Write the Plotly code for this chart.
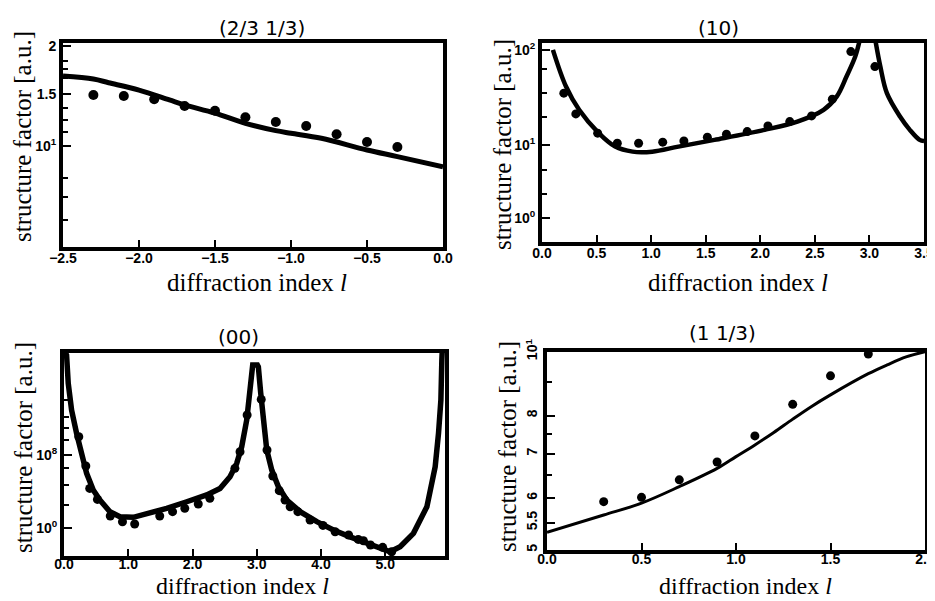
import plotly.graph_objects as go
import math

# ---------------- data ----------------
# panel (2/3 1/3)
p1_pts_l = [-2.3, -2.1, -1.9, -1.7, -1.5, -1.3, -1.1, -0.9, -0.7, -0.5, -0.3]
p1_pts_F = [14.24, 14.14, 13.82, 13.20, 12.77, 12.20, 11.81, 11.49, 10.84, 10.28, 9.93]
p1_fit_l = [-2.5, -2.3, -2.2, -2.0, -1.8, -1.7, -1.5, -1.3, -1.1, -1.0, -0.8, -0.5, -0.3, 0.0]
p1_fit_F = [16.25, 15.91, 15.51, 14.74, 13.76, 13.29, 12.55, 11.70, 11.12, 10.92, 10.55, 9.72, 9.29, 8.66]
p1_yticks = [20, 14.3, 10]
p1_ytext = ["2", "1.5", "10<sup>1</sup>"]
p1_yminor = [18, 17, 16, 13, 12, 11, 8, 7, 6]

# panel (10)
p2_pts_l = [0.20, 0.31, 0.51, 0.69, 0.885, 1.106, 1.30, 1.515, 1.69, 1.88, 2.07, 2.27, 2.47, 2.66, 2.83, 3.05]
p2_pts_F = [35.0, 21.2, 13.3, 10.4, 10.4, 10.7, 11.0, 12.05, 12.96, 13.8, 15.85, 17.6, 20.2, 30.3, 95.9, 66.7]
p2_fit_l = [0.10, 0.22, 0.34, 0.52, 0.67, 0.83, 1.01, 1.25, 1.58, 2.04, 2.34, 2.58, 2.70, 2.79, 2.87, 2.91,
            None, 3.055, 3.10, 3.16, 3.28, 3.37, 3.46, 3.50]
p2_fit_F = [100, 41.1, 23.4, 13.3, 9.6, 8.5, 8.5, 9.6, 11.3, 14.4, 17.6, 23.4, 32.2, 52.4, 85, 125,
            None, 125, 66.7, 35, 19.9, 14.4, 11.3, 11.0]
p2_yticks = [100, 10, 1.7]
p2_ytext = ["10<sup>2</sup>", "10<sup>1</sup>", "10<sup>0</sup>"]
p2_yminor = [62.7, 35, 19.6, 5.45, 3.05]

# panel (00)
p3_pts_l = [0.23, 0.34, 0.40, 0.52, 0.72, 0.91, 1.10, 1.49, 1.69, 1.88, 2.09, 2.27, 2.66, 2.74, 2.85,
            3.07, 3.16, 3.25, 3.35, 3.44, 3.52, 3.64, 3.83, 4.03, 4.22, 4.43, 4.58, 4.66, 4.77, 4.96, 5.10]
p3_pts_F = [1.0e10, 6.2e6, 2.1e4, 1.3e3, 19.5, 4.6, 2.6, 19.5, 58, 135, 410, 1.7e3, 3.4e6, 2.3e8, 2.5e12,
            1.3e14, 3.5e8, 4.9e5, 1.2e4, 1.1e3, 204, 58, 7.1, 1.8, 0.36, 0.16, 0.052, 0.037, 0.0126, 0.0069, 0.0023]
p3_fit_l = [0.0, 0.04, 0.066, 0.118, 0.196, 0.274, 0.352, 0.455, 0.559, 0.715, 0.871, 1.078, 1.338, 1.598,
            1.910, 2.221, 2.428, 2.584, 2.688, 2.766, 2.844, 2.906, 2.937, 3.01, 3.025, 3.062, 3.103, 3.156,
            3.234, 3.337, 3.467, 3.675, 3.935, 4.193, 4.453, 4.713, 4.921, 5.076, 5.232, 5.439, 5.648,
            5.777, 5.829, 5.866, 5.881, 5.89]
p3_fit_F = [3e19, 1e19, 7.6e15, 8.9e12, 2.4e10, 1.5e8, 9.5e5, 1.4e4, 1.1e3, 58, 16, 14, 38, 135,
            720, 4.0e3, 2.1e4, 4.1e5, 1.2e7, 8.1e8, 7.1e11, 1.4e15, 8e17, 8e17, 5.1e17, 6.2e14, 3.1e11, 3.5e8,
            2.2e6, 3.2e4, 1.1e3, 58, 4.6, 0.56, 0.10, 0.019, 0.0054, 0.0023, 0.0081, 0.24, 204,
            5.1e6, 2.4e10, 1.1e14, 2.8e18, 1e20]
p3_yticks = [1e8, 1]
p3_ytext = ["10<sup>8</sup>", "10<sup>0</sup>"]
p3_yminor = [1.1e14, 1.6e12, 8.7e10, 4.5e9, 3.4e6, 5.0e4, 3.2e2]

# panel (1 1/3)
p4_pts_l = [0.3, 0.5, 0.7, 0.9, 1.1, 1.3, 1.5, 1.7]
p4_pts_F = [5.92, 6.01, 6.39, 6.80, 7.45, 8.32, 9.19, 9.92]
p4_fit_l = [0.0, 0.3, 0.5, 0.7, 0.9, 1.0, 1.1, 1.2, 1.3, 1.4, 1.5, 1.7, 1.8, 1.9, 2.0]
p4_fit_F = [5.32, 5.65, 5.89, 6.24, 6.65, 6.93, 7.22, 7.54, 7.90, 8.26, 8.60, 9.26, 9.55, 9.82, 10.0]
p4_yticks = [5, 5.5, 6, 7, 8, 10]
p4_ytext = ["5", "5.5", "6", "7", "8", "10<sup>1</sup>"]
p4_yminor = [6.5, 7.5, 9]

titles = ["(2/3 1/3)", "(10)", "(00)", "(1 1/3)"]
xlabel = "diffraction index <i>l</i>"
ylabel = "structure factor [a.u.]"

# ---------------- figure ----------------
# the page body has an 8px margin, so the figure is 8px smaller and all positions shift by 8px
OFF = 8
W, H = 935 - OFF, 601 - OFF
fig = go.Figure()

def add(xs, ys, ax, mode, width=None, msize=None, shape='linear'):
    if mode == 'lines':
        fig.add_trace(go.Scatter(x=xs, y=ys, mode='lines', xaxis='x' + ax, yaxis='y' + ax,
                                 line=dict(color='black', width=width, shape=shape),
                                 showlegend=False, hoverinfo='skip'))
    else:
        fig.add_trace(go.Scatter(x=xs, y=ys, mode='markers', xaxis='x' + ax, yaxis='y' + ax,
                                 marker=dict(color='black', size=msize),
                                 showlegend=False, hoverinfo='skip', cliponaxis=False))

add(p1_fit_l, p1_fit_F, '', 'lines', width=5, shape='spline')
add(p1_pts_l, p1_pts_F, '', 'markers', msize=10)
add(p2_fit_l, p2_fit_F, '2', 'lines', width=4.5, shape='spline')
add(p2_pts_l, p2_pts_F, '2', 'markers', msize=9)
add(p3_fit_l, p3_fit_F, '3', 'lines', width=5.5)
add(p3_pts_l, p3_pts_F, '3', 'markers', msize=9)
add(p4_fit_l, p4_fit_F, '4', 'lines', width=3, shape='spline')
add(p4_pts_l, p4_pts_F, '4', 'markers', msize=9)

tickfont = dict(family="Liberation Sans", size=14, color="black", weight="bold")

def xax(domain, yanchor, rng, dtick, standoff=-5):
    return dict(domain=domain, anchor=yanchor, range=rng, dtick=dtick, tick0=0, tickformat=".1f",
                showline=True, linewidth=4, linecolor='black', mirror=True, automargin=False,
                ticks='inside', ticklen=7, tickwidth=1.5, tickcolor='black', ticklabelstandoff=standoff,
                showgrid=False, zeroline=False, tickfont=tickfont)

def yax(domain, xanchor, rng, tv, tt, minor, angle=0):
    return dict(domain=domain, anchor=xanchor, type='log', range=rng,
                tickmode='array', tickvals=tv, ticktext=tt, tickangle=angle,
                showline=True, linewidth=4, linecolor='black', mirror=True, automargin=False,
                ticks='inside', ticklen=8, tickwidth=1.5, tickcolor='black',
                minor=dict(tickmode='array', tickvals=minor, ticks='inside', ticklen=5,
                           tickwidth=1.5, tickcolor='black', showgrid=False),
                showgrid=False, zeroline=False, tickfont=tickfont)

def px(x):
    return (x - OFF) / W

def py(y):
    return 1 - (y - OFF) / H

fig.update_layout(
    template='none',
    width=W, height=H, autosize=False,
    margin=dict(l=0, r=0, t=0, b=0, pad=0),
    paper_bgcolor='white', plot_bgcolor='white',
    xaxis=xax([px(63), px(443)], 'y', [-2.5, 0.0], 0.5),
    yaxis=yax([py(247), py(43)], 'x', [math.log10(4.96), math.log10(20.43)], p1_yticks, p1_ytext, p1_yminor),
    xaxis2=xax([px(542), px(924)], 'y2', [0.0, 3.5], 0.5),
    yaxis2=yax([py(242), py(43)], 'x2', [math.log10(0.953), math.log10(118)], p2_yticks, p2_ytext, p2_yminor),
    xaxis3=xax([px(64), px(445)], 'y3', [0.0, 5.93], 1.0, standoff=-8),
    yaxis3=yax([py(556), py(352.7)], 'x3', [-3.11, 19.25], p3_yticks, p3_ytext, p3_yminor),
    xaxis4=xax([px(547), px(925)], 'y4', [0.0, 2.0], 0.5, standoff=-7),
    yaxis4=yax([py(550), py(351.7)], 'x4', [math.log10(5), 1.0], p4_yticks, p4_ytext, p4_yminor, angle=-90),
)

ann = []
title_pos = [(262, 28), (718, 28), (238, 337), (722, 333)]
for t, (x, y) in zip(titles, title_pos):
    ann.append(dict(text=t, x=px(x), y=py(y), xref='paper', yref='paper', showarrow=False,
                    xanchor='center', yanchor='middle',
                    font=dict(family="DejaVu Sans", size=20, color='black')))
xl_pos = [(257, 282, 25), (738, 282, 25), (242, 586, 24), (745, 586, 24)]
for (x, y, s) in xl_pos:
    ann.append(dict(text=xlabel, x=px(x), y=py(y), xref='paper', yref='paper', showarrow=False,
                    xanchor='center', yanchor='middle',
                    font=dict(family="Liberation Serif", size=s, color='black')))
yl_pos = [(23, 137), (503, 145), (23, 448), (507, 447)]
for (x, y) in yl_pos:
    ann.append(dict(text=ylabel, x=px(x), y=py(y), xref='paper', yref='paper', showarrow=False,
                    xanchor='center', yanchor='middle', textangle=-90,
                    font=dict(family="Liberation Serif", size=25, color='black')))
fig.update_layout(annotations=ann)

fig.write_html("out.html")
